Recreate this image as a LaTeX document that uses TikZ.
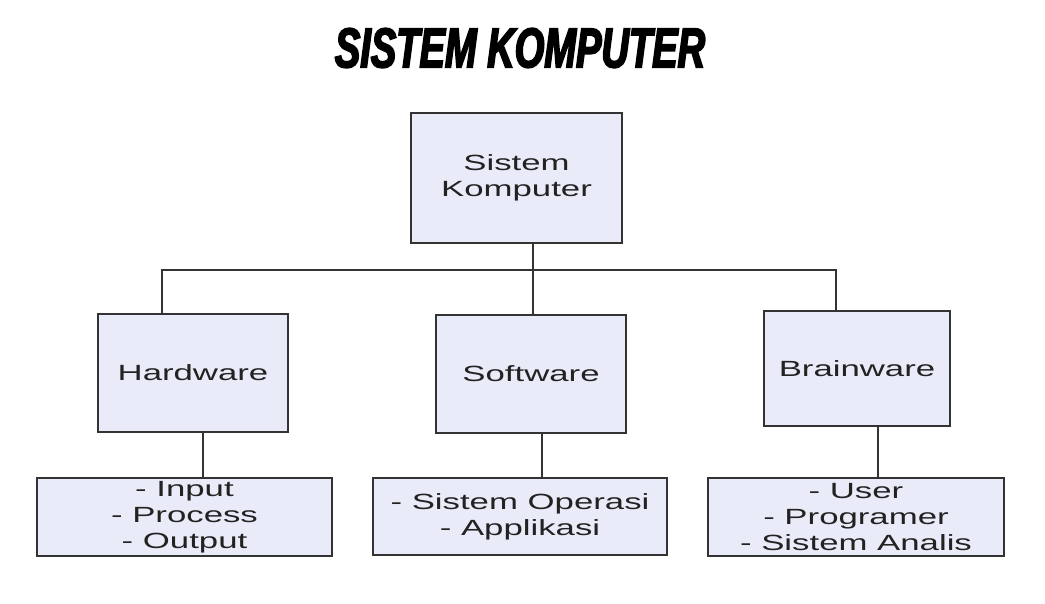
\documentclass[tikz,border=0pt]{standalone}
\usepackage{fontspec}
\setmainfont{Liberation Sans}
\newfontfamily\boxfont[FakeStretch=1.58]{Liberation Sans}
\newfontfamily\titlefont[FakeStretch=0.68,FakeBold=3]{Liberation Sans Bold Italic}
\definecolor{boxfill}{HTML}{E9ECF8}
\definecolor{edge}{HTML}{333333}
\definecolor{txt}{HTML}{222222}
\tikzset{
  box/.style={draw=edge, line width=2pt, fill=boxfill, inner sep=0pt, align=center,
    text=txt, font=\boxfont\fontsize{22}{26}\selectfont},
  conn/.style={draw=edge, line width=2pt}
}
\begin{document}
\begin{tikzpicture}[x=1pt,y=-1pt]
\fill[white] (0,0) rectangle (1045,604);
\useasboundingbox (0,0) rectangle (1045,604);
\node (title) at (520,48) {\titlefont\fontsize{56}{60}\selectfont SISTEM KOMPUTER};
\node[box, minimum width=211pt, minimum height=130pt] (top) at (516.5,178) {Sistem\\Komputer};
\node[box, minimum width=190pt, minimum height=118pt] (hw) at (193,373) {Hardware};
\node[box, minimum width=190pt, minimum height=118pt] (sw) at (531,374) {Software};
\node[box, minimum width=186pt, minimum height=115pt] (bw) at (857,368.5) {Brainware};
\node[box, minimum width=295pt, minimum height=78pt] (hwl) at (184.5,517) {- Input\\- Process\\- Output};
\node[box, minimum width=294pt, minimum height=77pt] (swl) at (520,516.5) {- Sistem Operasi\\- Applikasi};
\node[box, minimum width=296pt, minimum height=78pt] (bwl) at (856,517) {- User\\- Programer\\- Sistem Analis};
\coordinate (cL) at (162,270);
\coordinate (cM) at (533,270);
\coordinate (cR) at (836,270);
\coordinate (dL) at (203,0);
\coordinate (dM) at (542,0);
\coordinate (dR) at (878,0);
\draw[conn] (top.south -| cM) -- (cM);
\draw[conn] (hw.north -| cL) -- (cL) -- (cR) -- (bw.north -| cR);
\draw[conn] (cM) -- (sw.north -| cM);
\draw[conn] (hw.south -| dL) -- (hwl.north -| dL);
\draw[conn] (sw.south -| dM) -- (swl.north -| dM);
\draw[conn] (bw.south -| dR) -- (bwl.north -| dR);
\end{tikzpicture}
\end{document}
